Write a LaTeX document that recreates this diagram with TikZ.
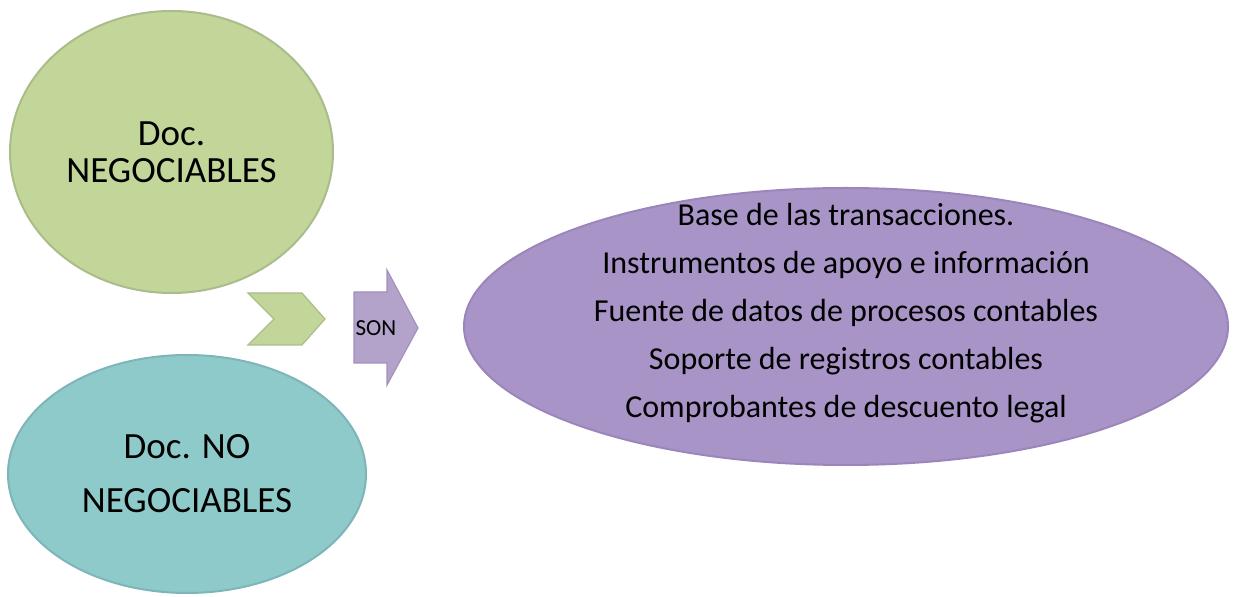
\documentclass[tikz,border=0pt]{standalone}
\usepackage{fontspec}
\setmainfont{Carlito}
\usetikzlibrary{
  positioning,
  shapes.geometric
}

\definecolor{negfill}{HTML}{C2D69A}
\definecolor{negline}{HTML}{ABBC8A}
\definecolor{nonfill}{HTML}{8FCACA}
\definecolor{nonline}{HTML}{7DB5B8}
\definecolor{sonfill}{HTML}{B3A2CA}
\definecolor{sonline}{HTML}{A291BD}
\definecolor{basefill}{HTML}{A994C8}
\definecolor{baseline}{HTML}{9A86BA}

\begin{document}
\begin{tikzpicture}[
  x=0.5pt, y=-0.5pt,
  bubble/.style={
    ellipse,
    inner sep=0pt,
    line width=1pt,
    align=center
  },
  negocio/.style={
    bubble,
    draw=negline,
    fill=negfill,
    minimum width=161.5pt,
    minimum height=141pt,
    font=\fontsize{18.5}{18.5}\selectfont
  },
  nonegocio/.style={
    bubble,
    draw=nonline,
    fill=nonfill,
    minimum width=179pt,
    minimum height=119pt,
    font=\fontsize{18.5}{27}\selectfont
  },
  funcion/.style={
    bubble,
    draw=baseline,
    fill=basefill,
    minimum width=382pt,
    minimum height=138.5pt
  },
  lista/.style={
    align=center,
    font=\fontsize{16}{24}\selectfont
  },
  flecha/.style={
    line width=0.6pt,
    line join=miter
  }
]

\useasboundingbox (0,0) rectangle (1236,597);

% Tipos de documentos
\node[negocio] (neg) at (171.5,152) {Doc.\\NEGOCIABLES};
\node[nonegocio] (noneg) at (187,474) {Doc. NO\\NEGOCIABLES};

% Chevron y flecha
\filldraw[flecha, draw=negline, fill=negfill]
  (248,293) -- (302,293) -- (325,319) -- (302,345) -- (248,345) -- (274,319) -- cycle;
\filldraw[flecha, draw=sonline, fill=sonfill]
  (354,292) -- (387,292) -- (387,270) -- (418,328) -- (387,385) -- (387,363) -- (354,363) -- cycle;
\node[font=\fontsize{11.5}{12}\selectfont] (son) at (376,328) {SON};

% Funciones
\node[funcion] (func) at (846,326.5) {};
\node[lista] (items) at (846,313) {Base de las transacciones.\\
  Instrumentos de apoyo e información\\
  Fuente de datos de procesos contables\\
  Soporte de registros contables\\
  Comprobantes de descuento legal};

\end{tikzpicture}
\end{document}
